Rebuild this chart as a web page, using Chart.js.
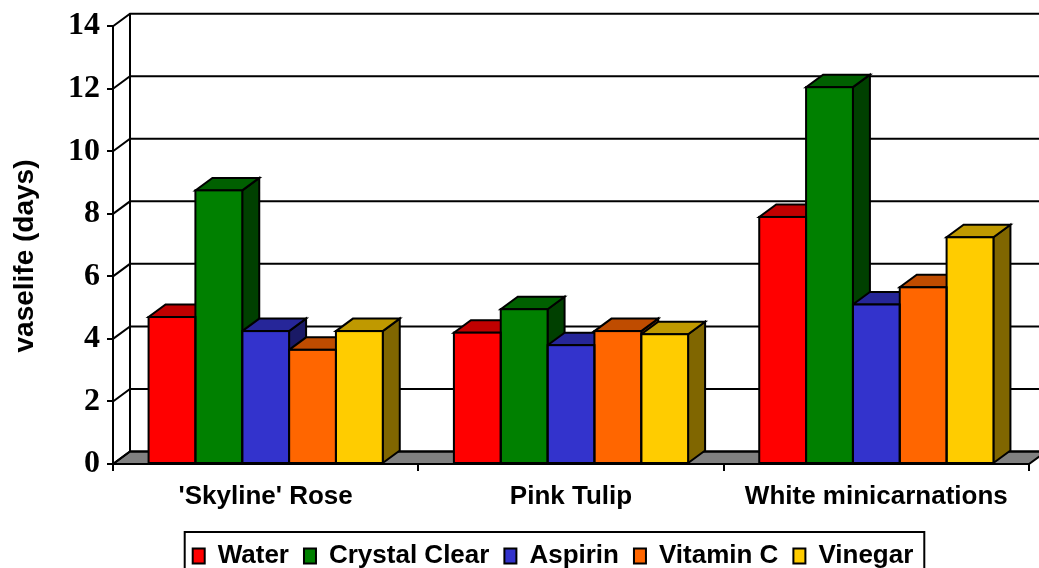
<!DOCTYPE html>
<html>
<head>
<meta charset="utf-8">
<script src="https://cdn.jsdelivr.net/npm/chart.js@4.4.1/dist/chart.umd.min.js"></script>
<style>
  html, body { margin: 0; padding: 0; background: #fff; overflow: hidden; }
</style>
</head>
<body>
<canvas id="chart" width="1039" height="579"></canvas>
<script>
// ---- data ----
const categories = ["'Skyline' Rose", 'Pink Tulip', 'White minicarnations'];
const seriesNames = ['Water', 'Crystal Clear', 'Aspirin', 'Vitamin C', 'Vinegar'];
const water        = [4.7, 4.2, 7.9];
const crystalClear = [8.75, 4.95, 12.05];
const aspirin      = [4.25, 3.8, 5.1];
const vitaminC     = [3.65, 4.25, 5.65];
const vinegar      = [4.25, 4.15, 7.25];
const yMin = 0, yMax = 14, yStep = 2;

// ---- colours: front / top / side ----
const frontColors = ['#FF0000', '#008000', '#3333CC', '#FF6600', '#FFCC00'];
const topColors   = ['#C00000', '#006000', '#262699', '#BF4C00', '#BF9900'];
const sideColors  = ['#800000', '#004000', '#1A1A66', '#803300', '#806600'];

const ARIAL = "'Liberation Sans', Arial, sans-serif";
const TIMES = "'Liberation Serif', 'Times New Roman', serif";
const DX = 17, DY = 12.5;   // 3D depth offset

function poly(ctx, pts, fill) {
  ctx.beginPath();
  ctx.moveTo(pts[0][0], pts[0][1]);
  for (let k = 1; k < pts.length; k++) ctx.lineTo(pts[k][0], pts[k][1]);
  ctx.closePath();
  if (fill) { ctx.fillStyle = fill; ctx.fill(); }
  ctx.stroke();
}

// ---- 3D walls, floor, bar sides/tops ----
const depth3d = {
  id: 'depth3d',
  afterLayout(chart) {
    // legend sits a bit right of the canvas centre
    const lg = chart.legend;
    lg.left = 77;
    lg.width = lg.right - lg.left;
  },
  beforeDatasetsDraw(chart) {
    const { ctx, chartArea: a, scales: { y } } = chart;
    ctx.save();
    ctx.lineWidth = 2;
    ctx.strokeStyle = '#000';

    const y0 = y.getPixelForValue(yMin);
    const yTop = y.getPixelForValue(yMax);

    // floor
    poly(ctx, [[a.left, y0], [a.right, y0], [a.right + DX, y0 - DY], [a.left + DX, y0 - DY]], '#808080');

    // back wall grid + left wall diagonals
    y.ticks.forEach(t => {
      const py = y.getPixelForValue(t.value);
      ctx.beginPath();
      ctx.moveTo(a.left, py);
      ctx.lineTo(a.left + DX, py - DY);
      ctx.lineTo(a.right + DX, py - DY);
      ctx.stroke();
    });
    ctx.beginPath();
    ctx.moveTo(a.left + DX, yTop - DY);
    ctx.lineTo(a.left + DX, y0 - DY);
    ctx.stroke();

    // sides and tops, left to right in each category
    for (let i = 0; i < categories.length; i++) {
      chart.data.datasets.forEach((ds, d) => {
        const bar = chart.getDatasetMeta(d).data[i];
        const l = bar.x - bar.width / 2, r = bar.x + bar.width / 2;
        const t = bar.y, b = bar.base;
        poly(ctx, [[r, b], [r + DX, b - DY], [r + DX, t - DY], [r, t]], sideColors[d]);
        poly(ctx, [[l, t], [r, t], [r + DX, t - DY], [l + DX, t - DY]], topColors[d]);
      });
    }
    ctx.restore();
  },
  afterDatasetsDraw(chart) {
    const { ctx } = chart;
    ctx.save();
    ctx.lineWidth = 2;
    ctx.strokeStyle = '#000';
    chart.data.datasets.forEach((ds, d) => {
      chart.getDatasetMeta(d).data.forEach(bar => {
        ctx.strokeRect(bar.x - bar.width / 2, bar.y, bar.width, bar.base - bar.y);
      });
    });
    ctx.restore();
  },
  afterDraw(chart) {
    const { ctx, legend } = chart;
    ctx.save();
    // legend frame
    const boxes = legend.legendHitBoxes;
    const left = Math.min(...boxes.map(b => b.left)) - 8;
    const right = Math.max(...boxes.map(b => b.left + b.width)) + 11;
    const top = Math.min(...boxes.map(b => b.top)) - 11;
    ctx.lineWidth = 2;
    ctx.strokeStyle = '#000';
    ctx.strokeRect(left, top, right - left, 80);

    // y axis title
    ctx.translate(25, 256);
    ctx.rotate(-Math.PI / 2);
    ctx.font = 'bold 28px ' + ARIAL;
    ctx.fillStyle = '#000';
    ctx.textAlign = 'center';
    ctx.textBaseline = 'middle';
    ctx.fillText('vaselife (days)', 0, 0);
    ctx.restore();
  }
};

const seriesData = [water, crystalClear, aspirin, vitaminC, vinegar];

new Chart(document.getElementById('chart'), {
  type: 'bar',
  data: {
    labels: categories,
    datasets: seriesNames.map((name, d) => ({
      label: name,
      data: seriesData[d],
      backgroundColor: frontColors[d],
      borderWidth: 0,
      inflateAmount: 0,
      categoryPercentage: 0.767,
      barPercentage: 1
    }))
  },
  options: {
    responsive: false,
    animation: false,
    layout: { padding: { left: 0, right: 10, top: 25, bottom: 0 } },
    plugins: {
      tooltip: { enabled: false },
      legend: {
        position: 'bottom',
        labels: {
          color: '#000',
          font: { family: ARIAL, size: 26, weight: 'bold' },
          boxWidth: 12,
          boxHeight: 15,
          padding: 15,
          generateLabels(chart) {
            return Chart.defaults.plugins.legend.labels.generateLabels(chart)
              .map(l => ({ ...l, strokeStyle: '#000', lineWidth: 2 }));
          }
        }
      }
    },
    scales: {
      x: {
        offset: true,
        grid: { offset: true, drawOnChartArea: false, drawTicks: true, tickLength: 7, color: '#000', lineWidth: 2 },
        border: { display: true, color: '#000', width: 2 },
        ticks: { color: '#000', padding: 10, maxRotation: 0, font: { family: ARIAL, size: 26, weight: 'bold' } },
        afterFit(scale) { scale.height = 64; }
      },
      y: {
        min: yMin,
        max: yMax,
        grid: { drawOnChartArea: false, drawTicks: true, tickLength: 6, color: '#000', lineWidth: 2 },
        border: { display: true, color: '#000', width: 2 },
        ticks: { stepSize: yStep, color: '#000', padding: 7, font: { family: TIMES, size: 32, weight: 'bold' } },
        afterFit(scale) { scale.width = 113; }
      }
    }
  },
  plugins: [depth3d]
});
</script>
</body>
</html>
